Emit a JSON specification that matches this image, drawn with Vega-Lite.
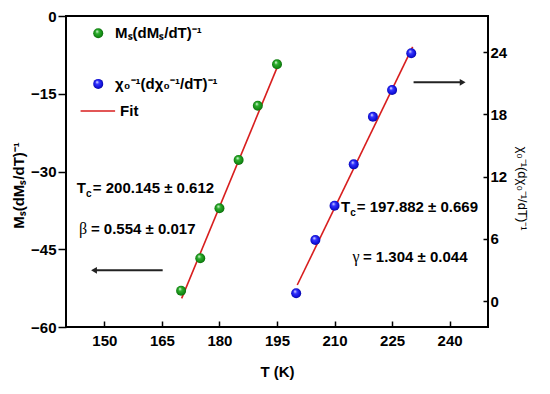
{
  "$schema": "https://vega.github.io/schema/vega-lite/v6.json",
  "width": 422,
  "height": 311,
  "autosize": {"type": "none"},
  "padding": {"left": 66, "top": 16, "right": 62, "bottom": 67},
  "background": "white",
  "config": {
    "view": {"stroke": "black", "strokeWidth": 2},
    "font": "Liberation Sans",
    "axis": {
      "grid": false,
      "domain": false,
      "labelFont": "Liberation Sans",
      "labelFontWeight": "bold",
      "labelFontSize": 15,
      "labelColor": "black",
      "tickColor": "black",
      "tickWidth": 1.5,
      "titleFont": "Liberation Sans",
      "titleFontSize": 15,
      "titleFontWeight": "bold",
      "titleColor": "black"
    }
  },
  "datasets": {
    "green": [
      {"x": 170, "y": -53.0},
      {"x": 175, "y": -46.75},
      {"x": 180, "y": -37.1},
      {"x": 185, "y": -27.78},
      {"x": 190, "y": -17.31},
      {"x": 195, "y": -9.32}
    ],
    "greenfit": [
      {"x": 170.15, "y": -54.47},
      {"x": 195.77, "y": -8.62}
    ],
    "blue": [
      {"x": 200, "y": 0.75},
      {"x": 205, "y": 5.89},
      {"x": 210, "y": 9.2},
      {"x": 215, "y": 13.19},
      {"x": 220, "y": 17.78},
      {"x": 225, "y": 20.36},
      {"x": 230, "y": 23.9}
    ],
    "bluefit": [
      {"x": 200.28, "y": 1.55},
      {"x": 230.36, "y": 24.53}
    ],
    "ann": [
      {"x": 142.8, "y": -33.13, "text": "T"},
      {"x": 147.0, "y": -33.13, "text": "= 200.145 ± 0.612"},
      {"x": 146.5, "y": -41.1, "text": "= 0.554 ± 0.017"},
      {"x": 211.7, "y": -36.8, "text": "T"},
      {"x": 215.8, "y": -36.8, "text": "= 197.882 ± 0.669"},
      {"x": 217.4, "y": -46.55, "text": "= 1.304 ± 0.044"},
      {"x": 152.8, "y": -3.34, "text": "Mₛ(dMₛ/dT)⁻¹"},
      {"x": 152.8, "y": -13.1, "text": "χ₀⁻¹(dχ₀⁻¹/dT)⁻¹"},
      {"x": 154.1, "y": -18.33, "text": "Fit"}
    ],
    "greek": [
      {"x": 143.4, "y": -41.1, "text": "β"},
      {"x": 214.7, "y": -46.55, "text": "γ"}
    ],
    "annsub": [
      {"x": 145.2, "y": -34.3, "text": "c"},
      {"x": 214.1, "y": -37.95, "text": "c"}
    ],
    "leggreen": [{"x": 148.4, "y": -3.34}],
    "legblue": [{"x": 148.4, "y": -13.1}],
    "legline": [
      {"x": 143.8, "y": -18.33},
      {"x": 152.8, "y": -18.33}
    ],
    "arrows": [
      {"x": 147.5, "x2": 165.2, "y": -49.07},
      {"x": 230.6, "x2": 243.2, "y": -12.79}
    ],
    "headleft": [{"x": 147.3, "y": -49.07}],
    "headright": [{"x": 243.4, "y": -12.79}]
  },
  "layer": [
    {
      "encoding": {
        "x": {
          "field": "x", "type": "quantitative",
          "scale": {"domain": [140, 250], "nice": false, "zero": false},
          "axis": {"title": "T (K)", "values": [150, 165, 180, 195, 210, 225, 240], "tickSize": -6, "labelPadding": 12, "titlePadding": 16}
        },
        "y": {
          "field": "y", "type": "quantitative",
          "scale": {"domain": [-60, 0], "nice": false, "zero": false},
          "axis": {"title": "Mₛ(dMₛ/dT)⁻¹", "values": [-60, -45, -30, -15, 0], "tickSize": 8, "labelPadding": 2, "titlePadding": 4, "titleY": 169}
        }
      },
      "layer": [
        {
          "data": {"name": "greenfit"},
          "mark": {"type": "line", "color": "#d81e1e", "strokeWidth": 1.6}
        },
        {
          "data": {"name": "green"},
          "mark": {
            "type": "point", "filled": true, "opacity": 1, "size": 100,
            "fill": {"gradient": "radial", "x1": 0.38, "y1": 0.3, "r1": 0.02, "x2": 0.5, "y2": 0.5, "r2": 0.55,
              "stops": [{"offset": 0, "color": "#e8ffe8"}, {"offset": 0.3, "color": "#2fae2f"}, {"offset": 0.75, "color": "#138a13"}, {"offset": 1, "color": "#0a5a0a"}]}
          }
        },
        {
          "data": {"name": "leggreen"},
          "mark": {
            "type": "point", "filled": true, "opacity": 1, "size": 100,
            "fill": {"gradient": "radial", "x1": 0.38, "y1": 0.3, "r1": 0.02, "x2": 0.5, "y2": 0.5, "r2": 0.55,
              "stops": [{"offset": 0, "color": "#e8ffe8"}, {"offset": 0.3, "color": "#2fae2f"}, {"offset": 0.75, "color": "#138a13"}, {"offset": 1, "color": "#0a5a0a"}]}
          }
        },
        {
          "data": {"name": "legblue"},
          "mark": {
            "type": "point", "filled": true, "opacity": 1, "size": 100,
            "fill": {"gradient": "radial", "x1": 0.38, "y1": 0.3, "r1": 0.02, "x2": 0.5, "y2": 0.5, "r2": 0.55,
              "stops": [{"offset": 0, "color": "#e8e8ff"}, {"offset": 0.3, "color": "#3535ff"}, {"offset": 0.75, "color": "#1010d8"}, {"offset": 1, "color": "#05058a"}]}
          }
        },
        {
          "data": {"name": "legline"},
          "mark": {"type": "line", "color": "#d81e1e", "strokeWidth": 1.6}
        },
        {
          "data": {"name": "arrows"},
          "mark": {"type": "rule", "color": "#222222", "strokeWidth": 2},
          "encoding": {"x2": {"field": "x2"}}
        },
        {
          "data": {"name": "headleft"},
          "mark": {"type": "point", "shape": "triangle-left", "filled": true, "opacity": 1, "color": "#222222", "size": 45}
        },
        {
          "data": {"name": "headright"},
          "mark": {"type": "point", "shape": "triangle-right", "filled": true, "opacity": 1, "color": "#222222", "size": 45}
        },
        {
          "data": {"name": "ann"},
          "mark": {"type": "text", "align": "left", "baseline": "middle", "font": "Liberation Sans", "fontWeight": "bold", "fontSize": 15, "color": "black"},
          "encoding": {"text": {"field": "text"}}
        },
        {
          "data": {"name": "greek"},
          "mark": {"type": "text", "align": "left", "baseline": "middle", "font": "Liberation Serif", "fontWeight": "normal", "fontSize": 16, "color": "black"},
          "encoding": {"text": {"field": "text"}}
        },
        {
          "data": {"name": "annsub"},
          "mark": {"type": "text", "align": "left", "baseline": "middle", "font": "Liberation Sans", "fontWeight": "bold", "fontSize": 10, "color": "black"},
          "encoding": {"text": {"field": "text"}}
        }
      ]
    },
    {
      "encoding": {
        "x": {
          "field": "x", "type": "quantitative",
          "scale": {"domain": [140, 250], "nice": false, "zero": false},
          "axis": {"title": "T (K)", "values": [150, 165, 180, 195, 210, 225, 240], "tickSize": -6, "labelPadding": 12, "titlePadding": 16}
        },
        "y": {
          "field": "y", "type": "quantitative",
          "scale": {"domain": [-2.5, 27.5], "nice": false, "zero": false},
          "axis": {"orient": "right", "title": "χ₀⁻¹(dχ₀⁻¹/dT)⁻¹", "values": [0, 6, 12, 18, 24], "tickSize": -5, "labelPadding": 7, "titlePadding": 8, "titleY": 172, "titleAngle": 90, "titleBaseline": "bottom", "titleFontWeight": "normal", "titleFontSize": 13}
        }
      },
      "layer": [
        {
          "data": {"name": "bluefit"},
          "mark": {"type": "line", "color": "#d81e1e", "strokeWidth": 1.6}
        },
        {
          "data": {"name": "blue"},
          "mark": {
            "type": "point", "filled": true, "opacity": 1, "size": 100,
            "fill": {"gradient": "radial", "x1": 0.38, "y1": 0.3, "r1": 0.02, "x2": 0.5, "y2": 0.5, "r2": 0.55,
              "stops": [{"offset": 0, "color": "#e8e8ff"}, {"offset": 0.3, "color": "#3535ff"}, {"offset": 0.75, "color": "#1010d8"}, {"offset": 1, "color": "#05058a"}]}
          }
        }
      ]
    }
  ],
  "resolve": {"scale": {"y": "independent"}, "axis": {"y": "independent"}}
}
